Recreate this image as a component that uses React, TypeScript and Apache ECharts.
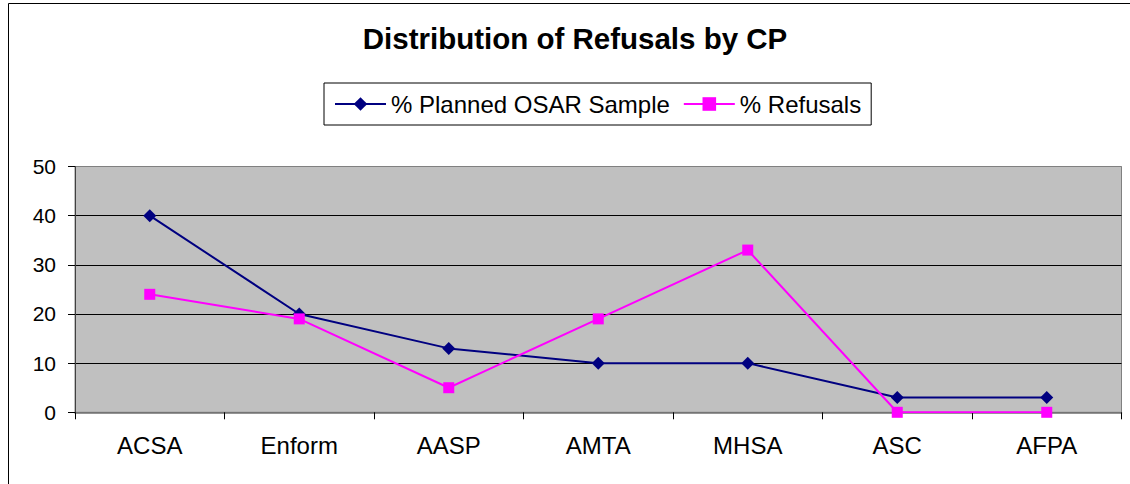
import React, { useEffect, useRef } from "react";
import * as echarts from "echarts";

const categories = ["ACSA", "Enform", "AASP", "AMTA", "MHSA", "ASC", "AFPA"];
const plannedSample = [40, 20, 13, 10, 10, 3, 3];
const refusals = [24, 19, 5, 19, 33, 0, 0];
const seriesNames = ["% Planned OSAR Sample", "% Refusals"];
const titleText = "Distribution of Refusals by CP";

const FONT = "Arial, 'Liberation Sans', sans-serif";

export default function App() {
  const ref = useRef<HTMLDivElement>(null);
  useEffect(() => {
    if (!ref.current) return;
    const chart = echarts.init(ref.current, undefined, { renderer: "svg" });
    chart.setOption({
      animation: false,
      backgroundColor: "#ffffff",
      textStyle: { fontFamily: FONT },
      graphic: [
        {
          type: "rect",
          shape: { x: 8.5, y: 3.5, width: 1300, height: 1000 },
          style: { fill: "none", stroke: "#000000", lineWidth: 1 },
          silent: true,
        },
        {
          type: "text",
          x: 575,
          y: 38,
          style: {
            text: titleText,
            fontFamily: FONT,
            fontSize: 29.5,
            fontWeight: "bold",
            fill: "#000000",
            align: "center",
            verticalAlign: "middle",
          },
        },
      ],
      legend: {
        data: seriesNames,
        left: 324,
        top: 83,
        padding: [9, 10],
        itemGap: 13,
        itemWidth: 51,
        itemHeight: 17,
        borderColor: "#000000",
        borderWidth: 1,
        backgroundColor: "#ffffff",
        textStyle: { fontFamily: FONT, fontSize: 24, color: "#000000" },
      },
      grid: {
        left: 75,
        top: 166.5,
        right: 8.5,
        bottom: 71.7,
        show: true,
        backgroundColor: "#C0C0C0",
        borderColor: "#808080",
        borderWidth: 1,
      },
      xAxis: {
        type: "category",
        data: categories,
        boundaryGap: true,
        axisLine: { show: true, lineStyle: { color: "#707070", width: 1.5 } },
        axisTick: { show: true, length: 7, lineStyle: { color: "#000000" } },
        axisLabel: { fontFamily: FONT, fontSize: 24, color: "#000000", margin: 21 },
        splitLine: { show: false },
      },
      yAxis: {
        type: "value",
        min: 0,
        max: 50,
        interval: 10,
        axisLine: { show: true, lineStyle: { color: "#404040" } },
        axisTick: { show: true, length: 7, lineStyle: { color: "#000000" } },
        axisLabel: { fontFamily: FONT, fontSize: 21, color: "#000000", margin: 19 },
        splitLine: {
          show: true,
          lineStyle: {
            color: ["#808080", "#000000", "#000000", "#000000", "#000000", "#808080"],
            width: 1,
          },
        },
      },
      series: [
        {
          name: seriesNames[0],
          type: "line",
          data: plannedSample,
          symbol: "diamond",
          symbolSize: 13,
          lineStyle: { color: "#000080", width: 2 },
          itemStyle: { color: "#000080" },
        },
        {
          name: seriesNames[1],
          type: "line",
          data: refusals,
          symbol: "rect",
          symbolSize: 11,
          lineStyle: { color: "#FF00FF", width: 2 },
          itemStyle: { color: "#FF00FF" },
        },
      ],
    });
    return () => chart.dispose();
  }, []);
  return (
    <div
      ref={ref}
      style={{ position: "fixed", left: 0, top: 0, width: 1130, height: 484 }}
    />
  );
}
